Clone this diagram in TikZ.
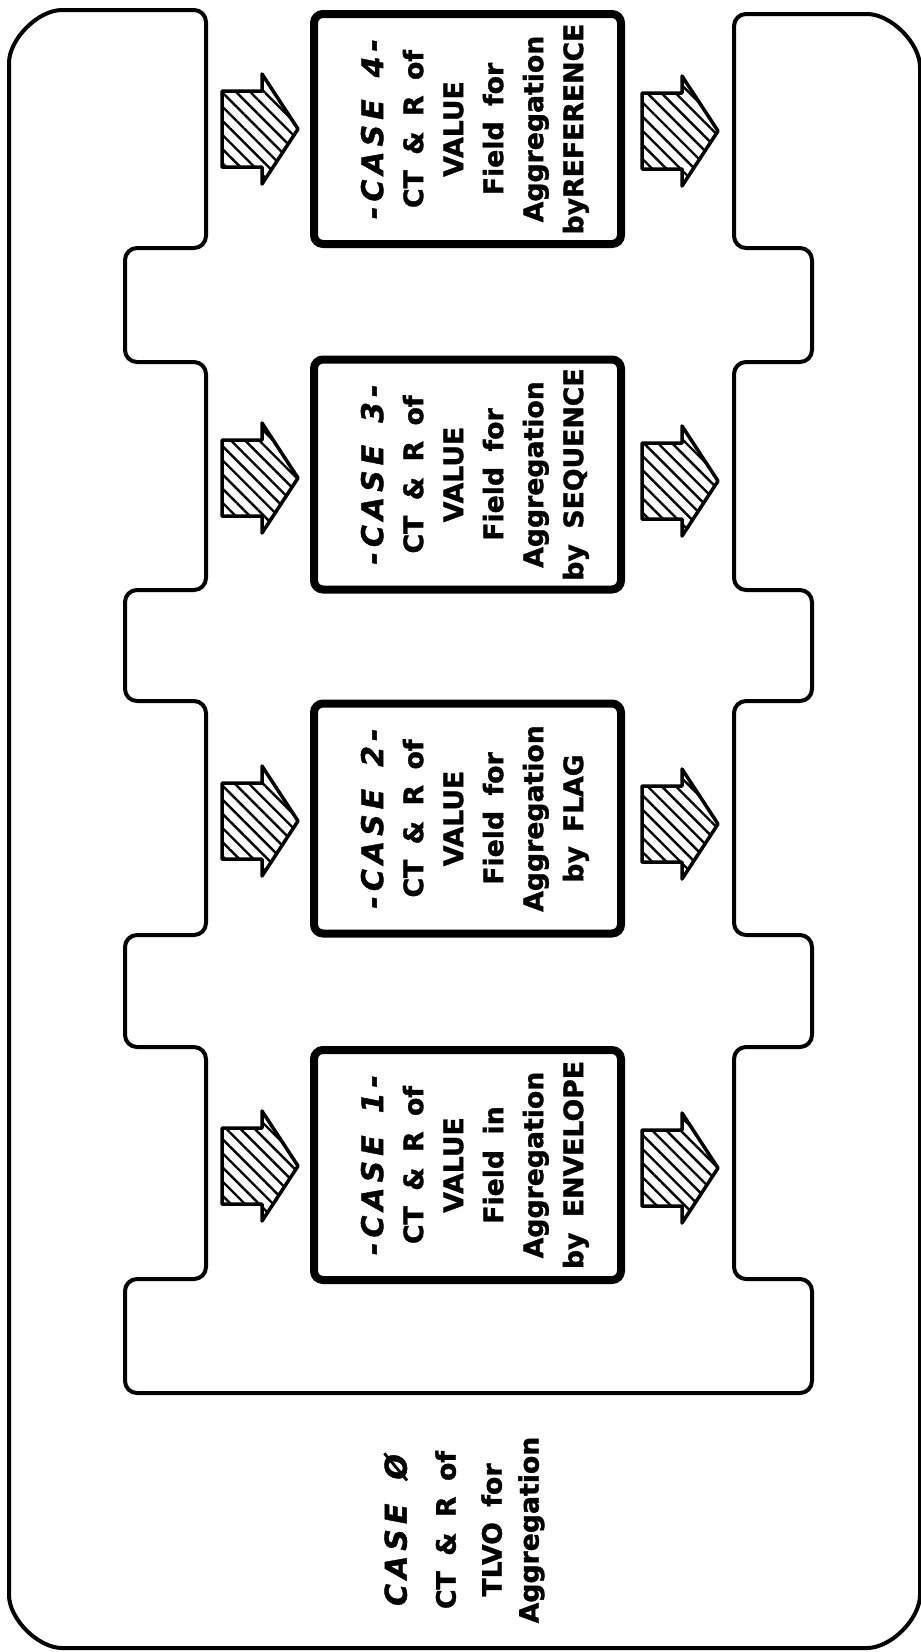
\documentclass[tikz,border=0pt]{standalone}
\usepackage{fontspec}
\setmainfont[BoldFeatures={FakeBold=1.3},BoldItalicFeatures={FakeBold=1.3}]{DejaVu Sans}
\usetikzlibrary{patterns.meta}
\newcommand\boxfont{\fontsize{26.7}{40}\selectfont\bfseries\spaceskip=0.58em\relax}
\newcommand\casefont{\fontsize{30}{40}\selectfont\bfseries\itshape}
\newcommand\casehdr[1]{\rule{0pt}{37pt}{\casefont -\kern5pt C\kern5pt A\kern5pt S\kern5pt E\kern22pt #1\kern5pt -}}
\newcommand\blockarrow[2]{\draw[hatch] (#1,#2-38) -- ++(40,0) -- ++(0,-17) -- ++(36,55) -- ++(-36,55) -- ++(0,-17) -- ++(-40,0) -- cycle;}
\begin{document}
\begin{tikzpicture}[x=1pt,y=-1pt,
  outline/.style={line width=4pt, rounded corners=12pt, line join=round},
  casebox/.style={draw, line width=8pt, rounded corners=9pt, rotate=90, minimum width=230pt, minimum height=307pt, align=center, inner sep=0pt, font=\boxfont},
  hatch/.style={draw, line width=3.5pt, line join=round, pattern={Lines[angle=-45,distance=10pt,line width=2.4pt]}},
  caselabel/.style={rotate=90, align=center, inner sep=0pt, font=\boxfont}]
\useasboundingbox (0,0) rectangle (921,1652);
\fill[white] (0,0) rectangle (921,1652);
% outer outline with the central slot
\draw[outline] (9,900) -- (9,75) arc[start angle=180,end angle=270,radius=65]
  -- (206,10) -- (206,248) -- (125,248) -- (125,362) -- (206,362)
  -- (206,590) -- (125,590) -- (125,701) -- (206,701)
  -- (206,935) -- (125,935) -- (125,1047) -- (206,1047)
  -- (206,1279) -- (125,1279) -- (125,1393) -- (812,1393) -- (812,1279) -- (734,1279)
  -- (734,1047) -- (812,1047) -- (812,935) -- (734,935)
  -- (734,701) -- (812,701) -- (812,590) -- (734,590)
  -- (734,362) -- (812,362) -- (812,248) -- (734,248)
  -- (734,14) -- (855,14) arc[start angle=270,end angle=360,radius=65]
  -- (920,1583) arc[start angle=0,end angle=90,radius=65]
  -- (74,1648) arc[start angle=90,end angle=180,radius=65] -- cycle;
% case boxes
\node[casebox] (c4) at (467.5,129) {\casehdr{4}\\CT \& R of\\VALUE\\Field for\\Aggregation\\byREFERENCE};
\node[casebox] (c3) at (467.5,474.5) {\casehdr{3}\\CT \& R of\\VALUE\\Field for\\Aggregation\\by SEQUENCE};
\node[casebox] (c2) at (467.5,818.5) {\casehdr{2}\\CT \& R of\\VALUE\\Field for\\Aggregation\\by\hspace{14pt}FLAG};
\node[casebox] (c1) at (467.5,1165) {\casehdr{1}\\CT \& R of\\VALUE\\Field in\\Aggregation\\by ENVELOPE};
% case 0 label
\node[caselabel] (c0) at (464,1530) {{\casefont C\kern5pt A\kern5pt S\kern5pt E\kern24pt Ø}\\[9pt]CT \& R of\\[6pt]TLVO for\\[-3pt]Aggregation};
% hatched block arrows
\blockarrow{222}{129}
\blockarrow{222}{478}
\blockarrow{222}{821}
\blockarrow{222}{1166}
\blockarrow{642}{131}
\blockarrow{642}{481}
\blockarrow{642}{824}
\blockarrow{642}{1168}
\end{tikzpicture}
\end{document}
